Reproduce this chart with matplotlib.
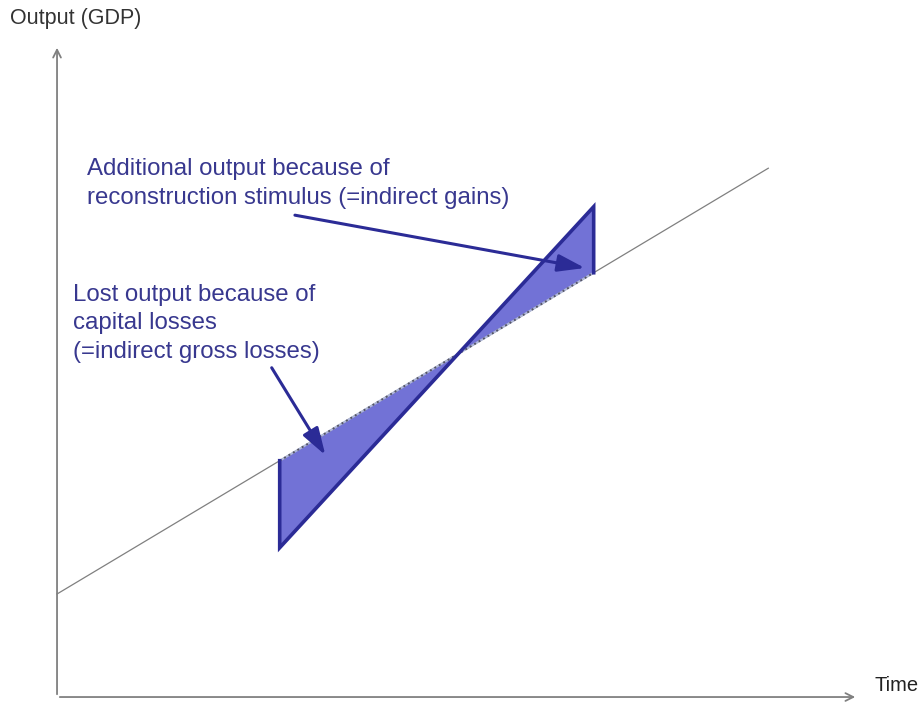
import numpy as np
import matplotlib.pyplot as plt

plt.rcParams['font.family'] = ['Liberation Sans', 'DejaVu Sans']

# Pre-disaster trend of output (time, output)
trend_t = [0.0, 8.88]
trend_y = [1.58, 8.11]

# Output path after the disaster: drop, then reconstruction catches up and overshoots
shock_t = [2.78, 6.70]
shock_y = [2.29, 7.52]

labels = {
    'gains': "Additional output because of\nreconstruction stimulus (=indirect gains)",
    'losses': "Lost output because of\ncapital losses\n(=indirect gross losses)",
}

navy = '#2b2b96'
text_col = '#38388f'
fill_col = '#7272d6'
axis_col = '#808080'


def trend(t):
    return np.interp(t, trend_t, trend_y)


# where the reconstruction path crosses the trend
k_trend = (trend_y[1] - trend_y[0]) / (trend_t[1] - trend_t[0])
k_shock = (shock_y[1] - shock_y[0]) / (shock_t[1] - shock_t[0])
tc = (shock_y[0] - trend_y[0] - k_shock * shock_t[0] + k_trend * trend_t[0]) / (k_trend - k_shock)
yc = trend(tc)

fig = plt.figure(figsize=(9.24, 7.04), dpi=100)
ax = fig.add_axes([0, 0, 1, 1])
ax.set_xlim(-0.712, 10.824)
ax.set_ylim(-0.107, 10.69)
ax.axis('off')

# axes with arrows
ax.annotate('', xy=(10.0, 0), xytext=(0, 0),
            arrowprops=dict(arrowstyle='->', color=axis_col, lw=1.3, mutation_scale=14))
ax.annotate('', xy=(0, 10.0), xytext=(0, 0),
            arrowprops=dict(arrowstyle='->', color=axis_col, lw=1.3, mutation_scale=14))
ax.text(-0.59, 10.41, 'Output (GDP)', fontsize=15.5, color='#333333', va='center', ha='left')
ax.text(10.2, 0.18, 'Time', fontsize=14.5, color='#222222', va='center', ha='left')

# trend line
ax.plot(trend_t, trend_y, color=axis_col, lw=0.9, zorder=2)

# shaded areas
t1, t2 = shock_t
lower = [(t1, trend(t1)), (t1, shock_y[0]), (tc, yc)]
upper = [(tc, yc), (t2, shock_y[1]), (t2, trend(t2))]
for tri in (lower, upper):
    ax.fill([p[0] for p in tri], [p[1] for p in tri], color=fill_col,
            ec='#b0b8d8', lw=1.5, zorder=3)

# dotted edge along the trend
ax.plot([t1, t2], [trend(t1), trend(t2)], color='#555566', lw=1.4, ls=':', zorder=4)

# output path
ax.plot([t1, t1, t2, t2], [trend(t1), shock_y[0], shock_y[1], trend(t2)],
        color=navy, lw=2.6, solid_joinstyle='miter', zorder=5)

# labels and pointers
ax.text(0.375, 8.26, labels['gains'], fontsize=17.3, color=text_col,
        va='top', ha='left', linespacing=1.38)
ax.text(0.2, 6.34, labels['losses'], fontsize=17.3, color=text_col,
        va='top', ha='left', linespacing=1.4)
head = '-|>,head_length=0.75,head_width=0.24'
ax.annotate('', xy=(6.59, 6.58), xytext=(2.97, 7.39),
            arrowprops=dict(arrowstyle=head, color=navy, lw=2.2, mutation_scale=22,
                            shrinkA=0, shrinkB=0), zorder=6)
ax.annotate('', xy=(3.35, 3.71), xytext=(2.68, 5.05),
            arrowprops=dict(arrowstyle=head, color=navy, lw=2.2, mutation_scale=22,
                            shrinkA=0, shrinkB=0), zorder=6)

fig.savefig('out.png', dpi=100)
